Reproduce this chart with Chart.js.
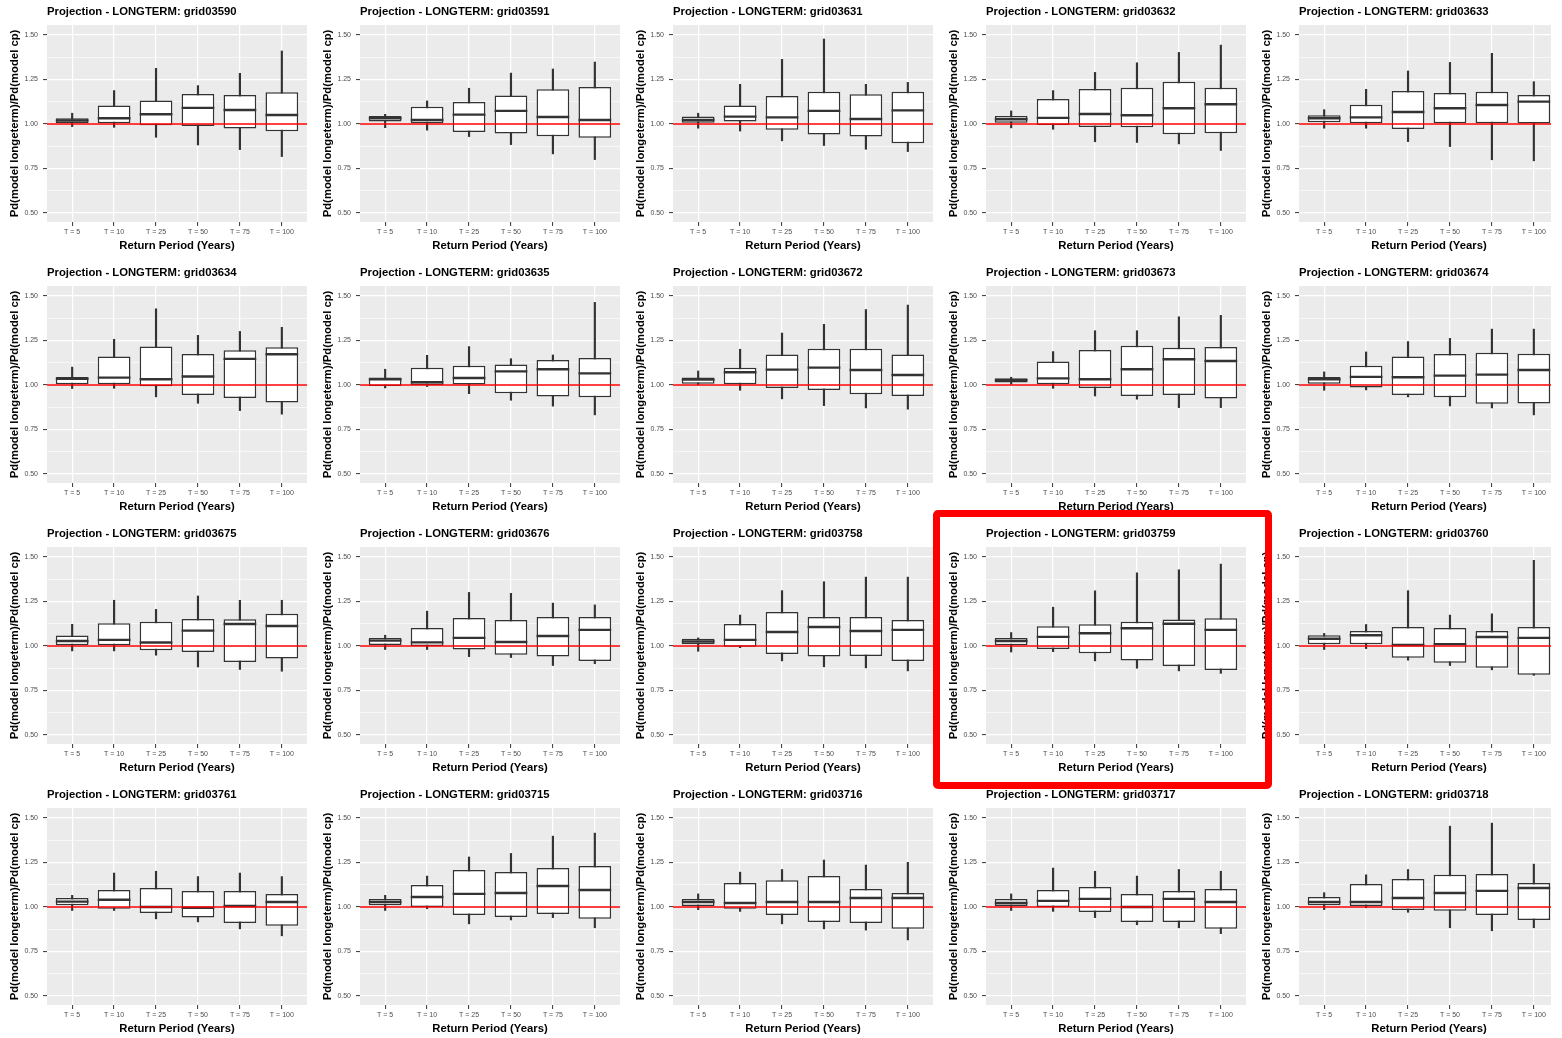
<!DOCTYPE html>
<html>
<head>
<meta charset="utf-8">
<title>Projection - LONGTERM</title>
<script src="https://cdn.jsdelivr.net/npm/chart.js@4.4.1/dist/chart.umd.min.js"></script>
<style>
  html, body { margin: 0; padding: 0; background: #ffffff; }
  body { width: 1562px; height: 1038px; overflow: hidden; position: relative; }
  .panel { position: absolute; width: 313px; height: 261px; overflow: hidden; }
  .panel canvas { display: block; }
  #highlight {
    position: absolute; left: 933px; top: 510px; width: 339px; height: 279px;
    box-sizing: border-box; border: 7px solid #ff0000; border-radius: 5px;
    pointer-events: none; z-index: 10;
  }
</style>
</head>
<body>
<div id="highlight"></div>
<script>
// Grid cells, one panel each (row-major order)
const gridIds = [
  '03590', '03591', '03631', '03632', '03633',
  '03634', '03635', '03672', '03673', '03674',
  '03675', '03676', '03758', '03759', '03760',
  '03761', '03715', '03716', '03717', '03718'
];

// Return periods on the x axis
const returnPeriods = ['T = 5', 'T = 10', 'T = 25', 'T = 50', 'T = 75', 'T = 100'];

// y breaks
const majorBreaks = [0.5, 0.75, 1.0, 1.25, 1.5];
const minorBreaks = [0.625, 0.875, 1.125, 1.375];

// ratio of no change (horizontal reference line)
const referenceRatio = 1.0;

// Box-plot statistics per grid cell, one value per return period
const whiskerLow = [
  [0.985, 0.981, 0.925, 0.882, 0.856, 0.817],
  [0.979, 0.965, 0.929, 0.884, 0.832, 0.800],
  [0.976, 0.960, 0.905, 0.879, 0.858, 0.845],
  [0.978, 0.970, 0.900, 0.896, 0.888, 0.851],
  [0.976, 0.976, 0.901, 0.873, 0.799, 0.793],
  [0.980, 0.981, 0.933, 0.897, 0.856, 0.836],
  [0.983, 0.991, 0.951, 0.914, 0.881, 0.832],
  [1.000, 0.970, 0.922, 0.884, 0.871, 0.864],
  [1.004, 0.981, 0.938, 0.920, 0.873, 0.873],
  [0.970, 0.972, 0.933, 0.882, 0.871, 0.832],
  [0.972, 0.972, 0.948, 0.882, 0.868, 0.858],
  [0.980, 0.980, 0.940, 0.935, 0.890, 0.900],
  [0.970, 0.990, 0.916, 0.883, 0.877, 0.860],
  [0.966, 0.968, 0.916, 0.875, 0.860, 0.846],
  [0.980, 0.985, 0.920, 0.890, 0.866, 0.835],
  [0.980, 0.980, 0.933, 0.916, 0.877, 0.838],
  [0.980, 0.990, 0.905, 0.927, 0.940, 0.883],
  [0.985, 0.975, 0.905, 0.877, 0.870, 0.815],
  [0.980, 0.975, 0.940, 0.900, 0.883, 0.850],
  [0.985, 0.995, 0.970, 0.883, 0.866, 0.883]
];
const quartile1 = [
  [1.004, 1.004, 0.993, 0.989, 0.974, 0.959],
  [1.013, 1.004, 0.955, 0.946, 0.931, 0.922],
  [1.007, 1.013, 0.968, 0.940, 0.929, 0.892],
  [1.007, 0.994, 0.983, 0.981, 0.942, 0.948],
  [1.009, 1.004, 0.972, 1.004, 1.004, 1.002],
  [1.004, 1.004, 0.993, 0.944, 0.927, 0.901],
  [0.994, 1.000, 1.002, 0.953, 0.935, 0.931],
  [1.007, 1.004, 0.983, 0.972, 0.948, 0.938],
  [1.013, 1.004, 0.983, 0.938, 0.944, 0.924],
  [1.007, 0.985, 0.944, 0.931, 0.894, 0.896],
  [1.004, 1.004, 0.976, 0.966, 0.910, 0.929],
  [1.005, 1.000, 0.980, 0.950, 0.940, 0.916],
  [1.010, 0.995, 0.955, 0.940, 0.944, 0.916],
  [1.004, 0.983, 0.959, 0.918, 0.888, 0.865],
  [1.010, 1.010, 0.933, 0.905, 0.877, 0.838],
  [1.010, 0.990, 0.966, 0.940, 0.910, 0.894],
  [1.010, 1.000, 0.955, 0.944, 0.960, 0.933],
  [1.005, 0.990, 0.955, 0.916, 0.910, 0.877],
  [1.005, 1.000, 0.972, 0.916, 0.916, 0.877],
  [1.010, 1.005, 0.983, 0.978, 0.955, 0.927]
];
const median = [
  [1.019, 1.032, 1.054, 1.090, 1.078, 1.050],
  [1.032, 1.022, 1.052, 1.073, 1.039, 1.022],
  [1.022, 1.041, 1.037, 1.073, 1.028, 1.076],
  [1.026, 1.034, 1.056, 1.049, 1.088, 1.110],
  [1.032, 1.037, 1.067, 1.088, 1.106, 1.125],
  [1.035, 1.041, 1.032, 1.047, 1.146, 1.172],
  [1.032, 1.015, 1.039, 1.076, 1.088, 1.065],
  [1.030, 1.071, 1.086, 1.097, 1.084, 1.056],
  [1.026, 1.037, 1.032, 1.088, 1.144, 1.134],
  [1.032, 1.045, 1.043, 1.052, 1.058, 1.084],
  [1.028, 1.034, 1.019, 1.086, 1.123, 1.112],
  [1.030, 1.020, 1.045, 1.022, 1.056, 1.090],
  [1.025, 1.034, 1.078, 1.106, 1.084, 1.090],
  [1.028, 1.051, 1.071, 1.099, 1.124, 1.090],
  [1.040, 1.060, 1.005, 1.010, 1.050, 1.045],
  [1.030, 1.040, 1.000, 0.995, 1.005, 1.028],
  [1.028, 1.056, 1.073, 1.078, 1.117, 1.095],
  [1.028, 1.022, 1.028, 1.028, 1.050, 1.050],
  [1.022, 1.034, 1.045, 1.000, 1.045, 1.028],
  [1.028, 1.028, 1.050, 1.078, 1.090, 1.106]
];
const quartile3 = [
  [1.032, 1.103, 1.131, 1.168, 1.162, 1.177],
  [1.045, 1.097, 1.123, 1.159, 1.194, 1.207],
  [1.041, 1.103, 1.157, 1.181, 1.166, 1.181],
  [1.045, 1.140, 1.196, 1.203, 1.237, 1.203],
  [1.049, 1.108, 1.185, 1.174, 1.181, 1.162],
  [1.045, 1.159, 1.216, 1.174, 1.194, 1.211],
  [1.041, 1.097, 1.108, 1.114, 1.140, 1.151],
  [1.041, 1.097, 1.170, 1.203, 1.203, 1.170],
  [1.037, 1.132, 1.196, 1.220, 1.209, 1.213],
  [1.045, 1.108, 1.160, 1.174, 1.181, 1.175],
  [1.058, 1.127, 1.136, 1.151, 1.149, 1.181],
  [1.045, 1.100, 1.157, 1.145, 1.162, 1.162],
  [1.040, 1.123, 1.190, 1.162, 1.162, 1.145],
  [1.045, 1.110, 1.122, 1.135, 1.148, 1.155],
  [1.060, 1.084, 1.106, 1.100, 1.084, 1.106],
  [1.050, 1.095, 1.106, 1.090, 1.090, 1.073],
  [1.045, 1.123, 1.207, 1.196, 1.218, 1.229],
  [1.045, 1.134, 1.150, 1.173, 1.100, 1.078],
  [1.045, 1.095, 1.112, 1.073, 1.090, 1.100],
  [1.056, 1.128, 1.157, 1.180, 1.185, 1.134]
];
const whiskerHigh = [
  [1.060, 1.187, 1.312, 1.215, 1.284, 1.409],
  [1.054, 1.129, 1.200, 1.285, 1.308, 1.347],
  [1.060, 1.222, 1.362, 1.476, 1.222, 1.233],
  [1.073, 1.187, 1.289, 1.343, 1.401, 1.442],
  [1.080, 1.194, 1.297, 1.345, 1.396, 1.237],
  [1.100, 1.256, 1.427, 1.278, 1.300, 1.323],
  [1.088, 1.166, 1.215, 1.147, 1.168, 1.463],
  [1.078, 1.200, 1.291, 1.340, 1.423, 1.448],
  [1.043, 1.187, 1.304, 1.304, 1.382, 1.390],
  [1.073, 1.185, 1.243, 1.261, 1.313, 1.313],
  [1.121, 1.256, 1.205, 1.280, 1.256, 1.256],
  [1.060, 1.195, 1.300, 1.295, 1.240, 1.230],
  [1.045, 1.173, 1.310, 1.360, 1.386, 1.386],
  [1.075, 1.217, 1.309, 1.410, 1.427, 1.459],
  [1.070, 1.120, 1.310, 1.173, 1.180, 1.480],
  [1.065, 1.190, 1.200, 1.170, 1.190, 1.170],
  [1.065, 1.173, 1.280, 1.300, 1.397, 1.414],
  [1.073, 1.195, 1.210, 1.263, 1.235, 1.250],
  [1.073, 1.218, 1.200, 1.173, 1.210, 1.200],
  [1.080, 1.180, 1.210, 1.453, 1.470, 1.240]
];

// ---- look & layout -------------------------------------------------------
const FONT = "'Liberation Sans', Arial, Helvetica, sans-serif";
const PANEL_W = 313, PANEL_H = 261, COLS = 5;
const LAST_COL_W = 299;          // right-most column is trimmed
const X_EXPAND = 0.6;            // discrete axis expansion
const Y_MIN = 0.45, Y_MAX = 1.555;
const BOX_FRACTION = 0.78;
const INK = '#333333';

const isMajor = v => majorBreaks.some(b => Math.abs(b - v) < 1e-9);
const yBreaks = [...majorBreaks, ...minorBreaks].sort((a, b) => a - b);

// grey panel background behind the grid
const panelBackground = {
  id: 'panelBackground',
  beforeDraw(chart) {
    const { ctx, chartArea: a } = chart;
    ctx.save();
    ctx.fillStyle = '#ebebeb';
    ctx.fillRect(a.left, a.top, a.right - a.left, a.bottom - a.top);
    ctx.restore();
  }
};

// half of the box width in pixels, taken from the x scale
function boxHalfWidth(ctx) {
  const s = ctx.chart.scales.x;
  return Math.abs(s.getPixelForValue(1) - s.getPixelForValue(0)) * BOX_FRACTION / 2;
}

function buildPanel(p) {
  const col = p % COLS, row = Math.floor(p / COLS);
  const holder = document.createElement('div');
  holder.className = 'panel';
  holder.style.left = (col * PANEL_W) + 'px';
  holder.style.top = (row * PANEL_H) + 'px';
  if (col === COLS - 1) holder.style.width = LAST_COL_W + 'px';
  const canvas = document.createElement('canvas');
  canvas.width = PANEL_W;
  canvas.height = PANEL_H;
  canvas.style.width = PANEL_W + 'px';
  canvas.style.height = PANEL_H + 'px';
  holder.appendChild(canvas);
  document.body.insertBefore(holder, document.getElementById('highlight'));

  const idx = returnPeriods.map((_, i) => i);
  const xMin = -X_EXPAND, xMax = returnPeriods.length - 1 + X_EXPAND;

  new Chart(canvas, {
    type: 'bar',
    data: {
      datasets: [
        {
          type: 'line',
          data: [{ x: xMin, y: referenceRatio }, { x: xMax, y: referenceRatio }],
          borderColor: '#ff0000',
          borderWidth: 1.4,
          pointRadius: 0,
          order: 0
        },
        {
          type: 'scatter',
          data: idx.map(i => ({ x: i, y: median[p][i] })),
          pointStyle: 'line',
          pointRadius: boxHalfWidth,
          pointBorderWidth: 2.4,
          pointBorderColor: INK,
          pointBackgroundColor: INK,
          order: 1
        },
        {
          type: 'bar',
          data: idx.map(i => ({ x: i, y: [quartile1[p][i], quartile3[p][i]] })),
          backgroundColor: '#ffffff',
          borderColor: INK,
          borderWidth: 1.5,
          borderSkipped: false,
          grouped: false,
          categoryPercentage: 1,
          barPercentage: BOX_FRACTION,
          order: 2
        },
        {
          type: 'bar',
          data: idx.map(i => ({ x: i, y: [whiskerLow[p][i], whiskerHigh[p][i]] })),
          backgroundColor: INK,
          borderWidth: 0,
          grouped: false,
          barThickness: 1.5,
          order: 3
        }
      ]
    },
    options: {
      responsive: false,
      animation: false,
      devicePixelRatio: 1,
      events: [],
      layout: { padding: { left: 0, right: 6, top: 0, bottom: 0 } },
      plugins: {
        legend: { display: false },
        tooltip: { enabled: false },
        title: {
          display: true,
          text: 'Projection - LONGTERM: grid' + gridIds[p],
          align: 'start',
          fullSize: false,
          color: '#000000',
          font: { family: FONT, size: 11.3, weight: 'bold' },
          padding: { top: 4.7, bottom: 6.7 }
        }
      },
      scales: {
        x: {
          type: 'linear',
          bounds: 'data',
          offset: false,
          min: xMin,
          max: xMax,
          afterBuildTicks: s => { s.ticks = idx.map(i => ({ value: i })); },
          afterFit: s => { s.height = 39; },
          ticks: {
            callback: v => returnPeriods[Math.round(v)] ?? '',
            color: '#4d4d4d',
            font: { family: FONT, size: 7 },
            padding: 2,
            maxRotation: 0,
            autoSkip: false
          },
          grid: { offset: false, color: '#ffffff', lineWidth: 1.2, tickColor: INK, tickLength: 4, tickWidth: 1 },
          border: { display: false },
          title: {
            display: true,
            text: 'Return Period (Years)',
            color: '#000000',
            font: { family: FONT, size: 11.3, weight: 'bold' },
            padding: { top: 0, bottom: 8.2 }
          }
        },
        y: {
          type: 'linear',
          bounds: 'data',
          min: Y_MIN,
          max: Y_MAX,
          afterBuildTicks: s => { s.ticks = yBreaks.map(v => ({ value: v })); },
          afterFit: s => { s.width = 47; },
          ticks: {
            callback: v => isMajor(v) ? v.toFixed(2) : '',
            color: '#4d4d4d',
            font: { family: FONT, size: 7 },
            padding: 5,
            autoSkip: false
          },
          grid: {
            color: '#ffffff',
            lineWidth: c => isMajor(c.tick.value) ? 1.2 : 0.6,
            tickColor: c => isMajor(c.tick.value) ? INK : 'rgba(0,0,0,0)',
            tickLength: 4,
            tickWidth: 1
          },
          border: { display: false },
          title: {
            display: true,
            text: 'Pd(model longeterm)/Pd(model cp)',
            color: '#000000',
            font: { family: FONT, size: 11.3, weight: 'bold' },
            padding: { top: 7.7, bottom: 0 }
          }
        }
      }
    },
    plugins: [panelBackground]
  });
}

gridIds.forEach((_, p) => buildPanel(p));
</script>
</body>
</html>
